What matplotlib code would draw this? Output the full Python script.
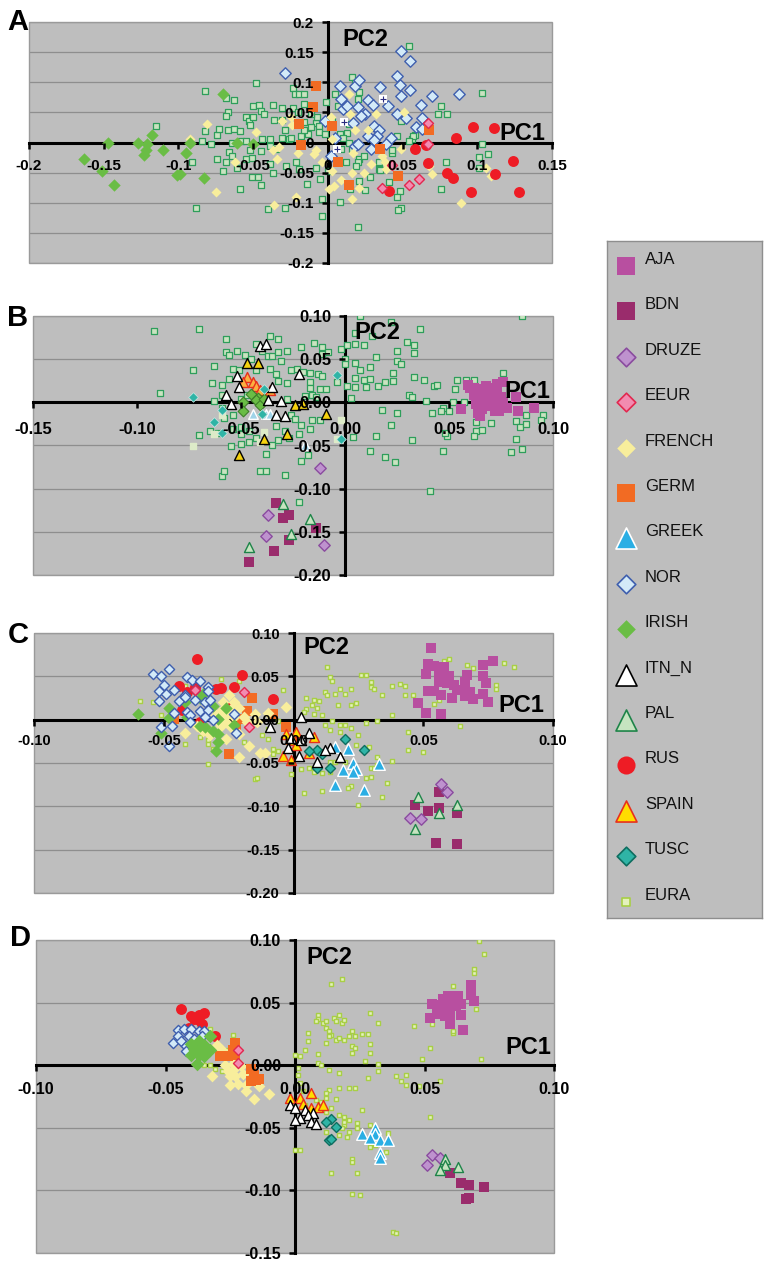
import numpy as np
import matplotlib
matplotlib.use('Agg')
import matplotlib.pyplot as plt
from matplotlib.patches import Rectangle

plt.rcParams['font.family'] = ['Liberation Sans', 'DejaVu Sans']

# Panel A
A_IRISH = [(-.163,-.027),(-.151,-.047),(-.143,-.071),(-.147,0),(-.127,0),(-.121,-.003),(-.122,-.012),(-.123,-.020),(-.118,.012),(-.110,-.013),(-.095,-.017),(-.092,-.001),(-.101,-.054),(-.099,-.053),(-.083,-.059),(-.070,.080),(-.061,0),(-.050,-.002)]
A_GERM = [(-.008,.094),(-.010,.059),(-.019,.030),(.003,.028),(-.018,-.004),(.007,-.033),(.014,-.071),(.035,-.010),(.047,-.056),(.068,.020)]
A_RUS = [(.097,.025),(.111,.024),(.086,.007),(.058,-.011),(.066,-.004),(.067,-.034),(.080,-.050),(.084,-.059),(.041,-.081),(.096,-.082),(.112,-.052),(.124,-.030),(.128,-.082)]
A_EEUR = [(.067,.032),(.067,-.002),(.036,-.076),(.054,-.070),(.061,-.060),(.043,-.037)]
A_NOR = [(-.029,.115),(.049,.152),(.055,.136),(.046,.110),(.048,.096),(.055,.087),(.049,.077),(.070,.077),(.088,.080),(.062,.062),(.008,.094),(.018,.093),(.021,.103),(.035,.092),(.009,.072),(.010,.055),(.013,.061),(.020,.059),(.027,.071),(.030,.062),(.040,.061),(.025,.048),(.022,.044),(-.002,.035),(.046,.047),(.052,.041),(.063,.040),(.059,.025),(.017,.032),(.031,.028),(.034,.021),(.033,.010),(.027,.011),(.042,.008),(.005,.007),(.031,.004),(.018,-.006),(.020,-.002),(.029,-.011),(.039,-.002),(.002,-.022),(.063,.022)]
A_PLUS = [(.037,.072),(.011,.034),(.006,-.011)]
A_FRENCH = [(-.081,.030),(-.092,.006),(-.048,.018),(-.031,.035),(-.025,.043),(-.024,.029),(-.037,-.012),(-.033,-.007),(-.034,-.028),(-.020,-.018),(-.008,-.012),(-.009,-.019),(-.004,-.033),(.002,.043),(.003,.006),(.003,-.047),(.014,.080),(.015,.047),(.018,.020),(.027,.021),(.032,.048),(.051,.050),(.049,-.010),(.036,-.022),(.038,-.033),(.029,-.035),(.024,-.050),(.016,-.051),(.017,-.018),(.009,-.063),(.004,-.072),(.0005,-.077),(.021,-.075),(.016,-.093),(-.021,-.091),(-.036,-.104),(-.075,-.082),(.039,-.044),(.070,-.053),(.089,-.100),(.106,-.042),(.109,-.055),(.068,-.039),(-.062,-.033)]
A_EURA = [(-.082,.085),(-.048,.098),(-.063,.071),(-.068,.074),(-.067,.051),(-.068,.044),(-.115,.027),(-.082,.019),(-.074,.012),(-.073,.022),(-.067,.020),(-.063,.022),(-.059,.019),(-.055,.043),(-.053,.035),(-.052,.029),(-.050,.043),(-.050,.060),(-.046,.062),(-.045,.053),(-.043,.048),(-.037,.062),(-.031,.058),(-.036,.037),(-.031,.037),(-.023,.091),(-.022,.080),(-.019,.080),(-.016,.081),(-.016,.064),(-.023,.058),(-.020,.050),(-.008,.032),(-.006,.028),(-.011,.025),(-.001,.068),(.005,.080),(.016,.108),(.018,.099),(.021,.084),(.007,.061),(.054,.160),(.076,.060),(.074,.047),(.080,.047),(.103,.082),(.049,.036),(.058,.012),(.056,.006),(.103,-.002),(.107,-.019),(.101,-.024),(.101,-.043),(.076,-.077),(.079,-.033),(.048,-.080),(.046,-.091),(.049,-.109),(.047,-.112),(.020,-.141),(-.004,-.122),(-.004,-.094),(.008,-.099),(-.014,-.069),(-.005,-.061),(-.029,-.108),(-.040,-.111),(-.088,-.109),(-.059,-.077),(-.051,-.057),(-.047,-.058),(-.045,-.071),(-.070,-.048),(-.091,-.032),(-.084,.002),(-.078,-.002),(-.068,-.033),(-.066,-.016),(-.064,-.022),(-.074,-.028),(-.061,-.042),(-.055,-.028),(-.051,-.025),(-.045,-.014),(-.052,-.012),(-.058,.003),(-.055,.003),(-.044,.006),(-.039,.006),(-.031,.008),(-.026,.006),(-.018,.010),(-.013,.014),(-.006,.017),(-.002,.014),(.008,.014),(.013,.015),(.010,.008),(.014,0),(.009,-.011),(.016,-.011),(.021,-.028),(.020,-.033),(.012,-.033),(.019,-.039),(.028,-.057),(.025,-.079),(.021,-.064),(.015,-.078),(-.021,-.033),(-.019,-.044),(-.037,-.050),(-.039,-.036),(-.028,-.039),(-.008,-.042),(.034,-.044),(.041,-.065),(.043,-.018),(.043,-.012),(.046,.011),(.057,.011),(.054,.003),(.034,-.033),(.035,-.046),(-.029,.021),(-.025,.007),(-.016,.034),(-.016,.021),(-.007,.042),(-.011,.047),(.003,.036),(-.064,0),(.014,.030),(.020,.072),(.024,-.022),(0,-.047),(-.035,-.011),(-.039,-.006)]

# Panel B
B_AJA = [(.056,-.008),(.059,.020),(.062,.017),(.065,.015),(.067,.014),(.070,.017),(.073,.021),(.076,.024),(.082,.006),(.083,-.010),(.091,-.006),(.063,-.002),(.066,.002),(.068,.008),(.071,.010),(.073,.012),(.075,.006),(.064,-.012),(.066,-.008),(.069,-.004),(.072,-.010),(.074,-.010),(.078,-.006),(.065,-.016),(.062,.008),(.066,.010),(.070,.002),(.073,0),(.076,0),(.060,.017),(.068,.019)]
B_BDN = [(-.033,-.117),(-.030,-.134),(-.027,-.131),(-.014,-.145),(-.027,-.159),(-.034,-.172),(-.046,-.185)]
B_DRUZE = [(-.012,-.076),(-.037,-.130),(-.038,-.155),(-.010,-.165)]
B_PAL = [(-.030,-.118),(-.017,-.135),(-.026,-.152),(-.046,-.168)]
B_ITN_N = [(-.041,.065),(-.038,.067),(-.052,.030),(-.051,.018),(-.022,.033),(-.035,.018),(-.057,.008),(-.055,-.002),(-.037,.003),(-.031,.001),(-.033,-.015),(-.029,-.016)]
B_YELLOW = [(-.051,-.061),(-.039,-.042),(-.028,-.037),(-.024,-.003),(-.020,-.002),(-.009,-.014),(-.047,.046),(-.042,.046)]
B_SPAIN = [(-.047,.029),(-.049,.024),(-.044,.024),(-.043,.019),(-.041,.014),(-.036,.014)]
B_IRISH = [(-.049,0),(-.049,-.010),(-.045,.010),(-.042,.005),(-.043,.003),(-.041,-.003),(-.039,.004)]
B_TUSC = [(-.073,.006),(-.059,-.009),(-.063,-.023),(-.059,-.036),(-.040,-.014),(-.039,.015),(-.004,.032),(-.002,-.043)]
B_GREEK = [(-.044,-.014),(-.038,-.013),(-.036,-.013),(-.019,-.049)]
B_PALE = [(-.073,-.051),(-.063,-.037),(-.059,-.015),(-.041,-.046),(-.039,-.034),(-.004,-.043),(-.002,-.021)]
B_EURA = [(-.092,.083),(-.070,.085),(-.057,.073),(-.089,.011),(-.073,.037),(-.063,.042),(-.064,.022),(-.059,.020),(-.056,.027),(-.054,.039),(-.051,.037),(-.057,.058),(-.056,.055),(-.052,.059),(-.048,.055),(-.045,.050),(-.043,.068),(-.036,.077),(-.032,.073),(-.040,.060),(-.037,.054),(-.035,.054),(-.032,.058),(-.028,.059),(-.031,.048),(-.036,.039),(-.043,.037),(-.033,.033),(-.032,.025),(-.028,.022),(-.026,.038),(-.023,.039),(-.020,.035),(-.017,.034),(-.021,.064),(-.015,.069),(-.011,.064),(-.011,.056),(-.008,.058),(-.013,.033),(-.011,.031),(-.017,.023),(-.017,.017),(-.012,.015),(-.009,.016),(-.016,.008),(-.014,.006),(-.019,.007),(-.004,.023),(-.002,.062),(.001,.066),(0,.050),(0,.044),(.005,.068),(.009,.066),(.007,.0997),(.005,.080),(.013,.077),(.022,.093),(.036,.085),(.030,.070),(.033,.066),(.033,.057),(.025,.060),(.025,.048),(.027,.044),(.015,.053),(.012,.041),(.007,.037),(.005,.046),(.023,.034),(.033,.029),(.038,.026),(.043,.019),(.044,.020),(.005,.028),(.009,.026),(.012,.027),(.023,.025),(.019,.023),(.016,.019),(.005,.018),(.010,.018),(.001,.019),(.003,.005),(.031,.008),(.032,.006),(.039,.001),(.018,-.009),(.025,-.012),(.042,-.012),(.047,-.007),(.046,-.010),(.050,-.010),(.022,-.026),(.015,-.039),(.004,-.040),(.032,-.044),(.012,-.056),(.019,-.063),(.024,-.069),(.047,-.056),(.049,-.039),(.048,-.036),(.041,-.103),(.054,.026),(.058,.026),(.062,.026),(.053,.015),(.057,0),(.052,0),(.063,-.023),(.063,-.033),(.062,-.039),(.066,-.032),(.070,-.024),(.076,.034),(.085,.100),(.082,-.022),(.084,-.029),(.087,-.025),(.087,-.015),(.095,-.015),(.094,-.020),(.082,-.043),(.080,-.057),(.085,-.054),(-.070,-.038),(-.065,-.033),(-.061,-.035),(-.055,-.051),(-.050,-.048),(-.046,-.046),(-.050,-.037),(-.054,-.031),(-.058,-.018),(-.059,-.006),(-.063,.002),(-.059,.008),(-.059,-.085),(-.058,-.079),(-.041,-.080),(-.038,-.080),(-.029,-.084),(-.022,-.116),(-.021,-.068),(-.018,-.061),(-.038,-.060),(-.035,-.050),(-.032,-.044),(-.027,-.041),(-.022,-.037),(-.017,-.031),(-.012,-.020),(-.016,-.021),(-.021,-.026),(-.029,-.033),(-.033,-.027),(-.043,-.041),(-.046,-.033),(-.050,-.029),(-.054,-.015),(-.050,.004),(-.047,.008),(-.028,.004),(-.026,-.015),(-.024,-.019)]

# Panel C
C_AJA = [(.053,.083),(.052,.064),(.054,.062),(.051,.053),(.056,.052),(.058,.061),(.060,.050),(.056,.044),(.059,.042),(.062,.040),(.066,.044),(.067,.052),(.073,.063),(.077,.068),(.073,.050),(.074,.042),(.063,.034),(.066,.034),(.068,.032),(.073,.030),(.052,.033),(.054,.033),(.057,.029),(.061,.025),(.066,.027),(.069,.024),(.075,.020),(.048,.019),(.051,.008),(.057,.007)]
C_BDN = [(.047,-.099),(.052,-.105),(.056,-.102),(.056,-.083),(.063,-.108),(.055,-.142),(.063,-.143)]
C_DRUZE = [(.057,-.074),(.059,-.083),(.045,-.113),(.049,-.115)]
C_EEUR = [(-.019,.032),(-.017,-.009),(-.038,.034)]
C_FRENCH = [(-.025,.028),(-.023,.020),(-.027,.020),(-.024,.012),(-.028,.010),(-.021,.014),(-.030,.005),(-.026,.005),(-.023,.003),(-.019,.003),(-.015,.007),(-.014,-.003),(-.010,.008),(-.035,-.013),(-.037,-.007),(-.042,-.015),(-.032,-.018),(-.026,-.022),(-.024,-.009),(-.028,-.007),(-.029,-.003),(-.021,-.017),(-.017,-.030),(-.013,-.038),(-.011,-.038),(-.021,-.043),(-.018,-.003),(-.023,.008),(-.026,-.003),(-.003,.015)]
C_GERM = [(-.016,.025),(-.018,.010),(-.008,.007),(-.025,-.040),(-.022,-.011),(-.020,.001),(-.046,.001),(-.003,-.009),(-.001,-.024)]
C_GREEK = [(.016,-.032),(.021,-.034),(.023,-.050),(.024,-.057),(.019,-.058),(.023,-.060),(.033,-.051),(.016,-.075),(.027,-.081)]
C_NOR = [(-.048,.058),(-.054,.053),(-.051,.050),(-.050,.040),(-.052,.033),(-.049,.030),(-.052,.021),(-.041,.049),(-.039,.046),(-.036,.045),(-.033,.038),(-.038,.034),(-.042,.028),(-.044,.022),(-.034,.020),(-.038,.023),(-.032,.023),(-.033,.033),(-.046,.008),(-.041,.009),(-.036,.010),(-.033,.011),(-.040,.005),(-.034,.003),(-.031,0),(-.047,-.007),(-.051,-.009),(-.040,-.003),(-.048,-.030),(-.023,.007),(-.022,-.015),(-.046,.034),(-.042,.026)]
C_IRISH = [(-.060,.007),(-.048,.014),(-.035,.030),(-.036,.025),(-.031,.016),(-.026,.014),(-.048,.002),(-.041,.003),(-.051,-.015),(-.034,-.008),(-.031,-.013),(-.029,.001),(-.029,-.016),(-.023,-.006),(-.029,-.026),(-.030,-.036),(-.042,.020),(-.036,-.007)]
C_ITN_N = [(.003,.003),(-.009,-.008),(.006,-.015),(-.001,-.021),(.003,-.024),(-.002,-.033),(.002,-.042),(.009,-.049),(.014,-.033),(.012,-.035),(.018,-.043)]
C_PAL = [(.048,-.089),(.063,-.099),(.056,-.108),(.047,-.126)]
C_RUS = [(-.037,.070),(-.020,.052),(-.044,.039),(-.041,.032),(-.038,.038),(-.030,.035),(-.028,.036),(-.023,.038),(-.008,.024),(-.043,.011),(-.036,-.003),(-.026,.015)]
C_SPAIN = [(-.003,-.017),(.001,-.014),(.008,-.020),(0,-.024),(.001,-.029),(-.004,-.042),(-.001,-.047),(.006,-.039)]
C_TUSC = [(.020,-.022),(.027,-.035),(.009,-.035),(.006,-.036),(.011,-.040),(.009,-.056),(.014,-.056)]
C_EURA = [(-.059,.022),(-.054,.020),(-.051,.005),(-.028,.047),(-.021,.045),(-.042,.039),(-.042,-.028),(-.033,-.024),(-.033,-.028),(-.031,-.034),(-.033,-.051),(-.015,-.068),(-.012,-.018),(-.010,-.022),(-.008,-.034),(-.006,-.036),(-.008,-.040),(-.036,-.020),(-.037,-.009),(-.019,-.026),(-.046,-.003),(-.010,-.011),(.013,.061),(.014,.049),(.015,.045),(.012,.032),(.013,.029),(.016,.030),(.018,.035),(.022,.035),(.020,.030),(.022,.017),(.024,.019),(.017,.017),(.026,.051),(.028,.052),(.030,.044),(.030,.038),(.031,.035),(.034,.029),(.038,.039),(.041,.041),(.043,.039),(.043,.029),(.046,.029),(.038,.005),(.032,-.002),(.028,-.004),(.005,.025),(.008,.023),(.010,.022),(.007,.017),(.005,.012),(.004,.009),(.009,.013),(.008,.007),(.011,.005),(.015,-.002),(.018,-.006),(.022,-.010),(.020,-.006),(.012,-.006),(.014,-.012),(.018,-.014),(.025,-.018),(.024,-.029),(.029,-.031),(.032,-.043),(.038,-.048),(.032,-.052),(.030,-.056),(.031,-.056),(.036,-.073),(.034,-.089),(.025,-.099),(.022,-.076),(.021,-.079),(.028,-.067),(.030,-.066),(.011,-.082),(.004,-.085),(-.014,-.067),(-.001,-.063),(.006,-.056),(.003,-.057),(.008,-.060),(.014,-.060),(.011,-.062),(.016,-.049),(.014,-.049),(.020,-.049),(.024,-.060),(.044,-.014),(.044,-.035),(.050,-.037),(.056,.023),(.054,.018),(.056,.006),(.064,-.007),(.060,.070),(.058,.068),(.067,.063),(.069,.060),(.081,.065),(.085,.061),(.078,.040),(.078,.035),(-.004,.034),(-.006,-.002)]

# Panel D
D_AJA = [(.068,.064),(.068,.056),(.069,.051),(.065,.028),(.060,.033),(.052,.038),(.053,.049),(.057,.053),(.059,.055),(.063,.055),(.064,.049),(.064,.040),(.060,.041),(.057,.047),(.055,.048),(.055,.041),(.058,.039),(.062,.047),(.059,.048)]
D_BDN = [(.060,-.086),(.064,-.094),(.067,-.096),(.073,-.097),(.067,-.106),(.066,-.107)]
D_DRUZE = [(.053,-.072),(.056,-.074),(.051,-.080)]
D_EEUR = [(-.022,.012),(-.022,.002)]
D_FRENCH = [(-.030,.016),(-.028,.012),(-.027,0),(-.024,.001),(-.026,-.005),(-.024,-.004),(-.021,-.001),(-.025,-.009),(-.023,-.009),(-.020,-.007),(-.017,-.012),(-.025,-.016),(-.022,-.015),(-.019,-.021),(-.014,-.017),(-.032,-.009),(-.016,-.027),(-.010,-.023),(-.023,.004),(-.019,-.016)]
D_GERM = [(-.023,.018),(-.024,.012),(-.029,.007),(-.026,.007),(-.023,.009),(-.017,-.003),(-.016,-.008),(-.015,-.012),(-.017,-.013),(-.014,-.011),(-.024,.008)]
D_GREEK = [(.026,-.055),(.031,-.050),(.031,-.055),(.029,-.058),(.033,-.060),(.036,-.060),(.033,-.070),(.033,-.074)]
D_NOR = [(-.045,.028),(-.043,.029),(-.040,.029),(-.037,.027),(-.035,.027),(-.045,.023),(-.041,.023),(-.036,.023),(-.047,.018),(-.044,.019),(-.042,.015),(-.037,.019),(-.039,.021),(-.042,.011)]
D_IRISH = [(-.040,.017),(-.037,.019),(-.035,.016),(-.033,.023),(-.040,.008),(-.038,.001),(-.037,.008),(-.034,.012),(-.035,.007),(-.033,.012),(-.039,.013),(-.037,.013)]
D_ITN_N = [(-.002,-.032),(0,-.034),(.004,-.036),(.007,-.038),(.005,-.040),(.002,-.042),(0,-.044),(.006,-.045),(.008,-.047)]
D_PAL = [(.058,-.075),(.058,-.080),(.056,-.084),(.063,-.081)]
D_RUS = [(-.044,.045),(-.040,.039),(-.037,.040),(-.035,.042),(-.039,.037),(-.037,.036),(-.036,.033),(-.031,.023),(-.041,.030)]
D_SPAIN = [(.006,-.022),(-.002,-.026),(.002,-.026),(.003,-.031),(.006,-.034),(.009,-.033),(.011,-.032)]
D_TUSC = [(.014,-.043),(.012,-.045),(.016,-.049),(.013,-.060),(.014,-.059)]
D_EURA = [(.071,.099),(.073,.089),(.069,.077),(.069,.074),(.061,.063),(.070,.045),(.046,.031),(.052,.014),(.049,.005),(.072,.005),(.061,.026),(.061,.027),(.053,.033),(.056,-.013),(.052,-.041),(.039,-.009),(.041,-.013),(.043,-.008),(.043,-.016),(.048,-.017),(.009,.040),(.009,.037),(.008,.035),(.011,.034),(.012,.035),(.015,.038),(.017,.040),(.016,.035),(.018,.034),(.019,.036),(.012,.030),(.013,.027),(.014,.024),(.016,.020),(.012,.018),(.005,.026),(.005,.019),(.013,.023),(.017,.022),(.019,.020),(.022,.027),(.021,.023),(.023,.023),(.022,.015),(.023,.014),(.022,.010),(.026,.025),(.028,.025),(.029,.042),(.032,.034),(.029,.017),(.029,.010),(.027,.003),(.032,.001),(.032,-.005),(.028,-.010),(.013,-.004),(.017,-.006),(.017,-.018),(.021,-.018),(.023,-.018),(.014,.065),(.018,.069),(.004,.012),(.002,.007),(0,.008),(.009,.009),(.009,.002),(.010,0),(.001,-.002),(.001,-.008),(.002,-.014),(.003,-.021),(.013,-.020),(.012,-.022),(.012,-.026),(.016,-.027),(.010,-.029),(.014,-.034),(.017,-.040),(.019,-.041),(.021,-.044),(.019,-.048),(.018,-.050),(.021,-.053),(.012,-.053),(.017,-.056),(.020,-.057),(.024,-.050),(.026,-.036),(.029,-.048),(.036,-.054),(.029,-.065),(.035,-.069),(.031,-.064),(0,-.068),(.002,-.068),(.022,-.075),(.022,-.077),(.024,-.086),(.014,-.086),(.022,-.103),(.025,-.104),(.038,-.133),(.039,-.134),(.004,-.032),(.008,-.028),(.012,-.037),(.019,-.045),(.024,-.046),(-.024,.024),(-.033,.029),(-.028,-.005),(-.033,0),(-.031,-.003),(-.035,0),(-.026,.012)]

LEGEND_LABELS = ['AJA', 'BDN', 'DRUZE', 'EEUR', 'FRENCH', 'GERM', 'GREEK', 'NOR', 'IRISH', 'ITN_N', 'PAL', 'RUS', 'SPAIN', 'TUSC', 'EURA']

A_XTICKS = [-0.2, -0.15, -0.1, -0.05, 0, 0.05, 0.1, 0.15]
A_XLABELS = ['-0.2', '-0.15', '-0.1', '-0.05', '0', '0.05', '0.1', '0.15']
A_YTICKS = [-0.2, -0.15, -0.1, -0.05, 0, 0.05, 0.1, 0.15, 0.2]
A_YLABELS = ['-0.2', '-0.15', '-0.1', '-0.05', '0', '0.05', '0.1', '0.15', '0.2']
B_XTICKS = [-0.15, -0.10, -0.05, 0, 0.05, 0.10]
B_XLABELS = ['-0.15', '-0.10', '-0.05', '0.00', '0.05', '0.10']
B_YTICKS = [-0.20, -0.15, -0.10, -0.05, 0, 0.05, 0.10]
B_YLABELS = ['-0.20', '-0.15', '-0.10', '-0.05', '0.00', '0.05', '0.10']
C_XTICKS = [-0.10, -0.05, 0, 0.05, 0.10]
C_XLABELS = ['-0.10', '-0.05', '0.00', '0.05', '0.10']
D_YTICKS = [-0.15, -0.10, -0.05, 0, 0.05, 0.10]
D_YLABELS = ['-0.15', '-0.10', '-0.05', '0.00', '0.05', '0.10']

W, H = 773, 1270

# marker, fill, edge, line width, area
STYLE = {
    'AJA': ('s', '#B84FA0', '#B84FA0', 0, 52),
    'BDN': ('s', '#9A2C6C', '#9A2C6C', 0, 52),
    'DRUZE': ('D', '#BE92CE', '#8A4C9F', 1, 34),
    'EEUR': ('D', '#F28BB0', '#E2284F', 1, 26),
    'FRENCH': ('D', '#F8EE9C', '#F8EE9C', 0, 36),
    'GERM': ('s', '#F26B23', '#F26B23', 0, 52),
    'GREEK': ('^', '#2AAEE4', '#FFFFFF', 1, 70),
    'NOR': ('D', '#D3EAF8', '#3F5FAE', 1, 27),
    'IRISH': ('D', '#6ABD45', '#6ABD45', 0, 40),
    'ITN_N': ('^', '#FFFFFF', '#000000', 1, 52),
    'PAL': ('^', '#C6E4C0', '#1E8449', 1, 52),
    'RUS': ('o', '#EE1C25', '#EE1C25', 0, 62),
    'SPAIN': ('^', '#FFDD00', '#E8301C', 1, 52),
    'TUSC': ('D', '#2FB4A6', '#0E6E60', 1, 26),
    'EURA': ('s', '#E4F1BC', '#A8CF45', 1, 6),
}


def add_axes_px(left, right, top, bottom):
    return plt.gcf().add_axes([left / W, 1 - bottom / H, (right - left) / W, (bottom - top) / H])


def draw_points(ax, points, name, **over):
    marker, fill, edge, lw, area = STYLE[name]
    opts = dict(marker=marker, facecolor=fill, edgecolor=edge, linewidth=lw, s=area, zorder=1)
    opts.update(over)
    xy = np.array(points).T
    ax.scatter(xy[0], xy[1], **opts)


def style_panel(ax, xlim, ylim, xticks, xlabels, yticks, ylabels, size, xpad):
    ax.set_xlim(xlim)
    ax.set_ylim(ylim)
    ax.set_facecolor('#BEBEBE')
    for side in ['top', 'right']:
        ax.spines[side].set_visible(False)
    for side in ['left', 'bottom']:
        ax.spines[side].set_position('zero')
        ax.spines[side].set_linewidth(2.2)
        ax.spines[side].set_zorder(0.8)
    ax.set_xticks(xticks)
    ax.set_xticklabels(xlabels, fontsize=size, fontweight='bold')
    ax.set_yticks(yticks)
    ax.set_yticklabels(ylabels, fontsize=size, fontweight='bold')
    ax.tick_params(axis='x', length=4, width=1.8, pad=xpad)
    ax.tick_params(axis='y', length=4, width=1.8, pad=6)
    ax.xaxis.set_zorder(2.5)
    ax.yaxis.set_zorder(2.5)
    for y in yticks:
        if y != 0:
            ax.axhline(y, color='#8E8E8E', lw=0.9, zorder=0.5)
    ax.add_patch(Rectangle((0, 0), 1, 1, transform=ax.transAxes, fill=False, edgecolor='#9A9A9A', lw=1, zorder=0.6, clip_on=False))


def px_text(x, y, s, size):
    plt.gcf().text(x / W, 1 - y / H, s, fontsize=size, fontweight='bold', ha='center', va='center', zorder=10)


fig = plt.figure(figsize=(W / 100, H / 100), dpi=100)

# A
ax = add_axes_px(29, 552, 22, 263)
draw_points(ax, A_EURA, 'EURA', s=16, facecolor='#C9E3C0', edgecolor='#2E9E5B', linewidth=0.9)
draw_points(ax, A_NOR, 'NOR', s=34)
draw_points(ax, A_FRENCH, 'FRENCH', s=26)
draw_points(ax, A_IRISH, 'IRISH')
draw_points(ax, A_GERM, 'GERM')
draw_points(ax, A_RUS, 'RUS')
draw_points(ax, A_EEUR, 'EEUR')
xy = np.array(A_PLUS).T
ax.scatter(xy[0], xy[1], marker='s', s=30, facecolor='white', linewidth=0, zorder=1)
ax.scatter(xy[0], xy[1], marker='+', s=14, color='#2B2B7F', linewidth=0.8, zorder=1)
style_panel(ax, (-0.2, 0.15), (-0.2, 0.2), A_XTICKS, A_XLABELS, A_YTICKS, A_YLABELS, 11, 8)

# B
ax = add_axes_px(33, 553, 316, 575)
draw_points(ax, B_EURA, 'EURA', s=16, facecolor='#C9E3C0', edgecolor='#2E9E5B', linewidth=0.9)
draw_points(ax, B_PALE, 'EURA', s=24, facecolor='#DDEBC8', edgecolor='#DDEBC8')
draw_points(ax, B_GREEK, 'GREEK', s=48, facecolor='#9FD3E8')
draw_points(ax, B_AJA, 'AJA', s=62)
draw_points(ax, B_BDN, 'BDN')
draw_points(ax, B_DRUZE, 'DRUZE')
draw_points(ax, B_PAL, 'PAL')
draw_points(ax, B_SPAIN, 'SPAIN', facecolor='#FBB040')
draw_points(ax, B_IRISH, 'IRISH', edgecolor='#3F7F2A', linewidth=0.8, s=30)
draw_points(ax, B_YELLOW, 'ITN_N', facecolor='#F4D10F')
draw_points(ax, B_ITN_N, 'ITN_N')
draw_points(ax, B_TUSC, 'TUSC', edgecolor='#CDE8E4', linewidth=0.5, s=24)
style_panel(ax, (-0.15, 0.10), (-0.20, 0.10), B_XTICKS, B_XLABELS, B_YTICKS, B_YLABELS, 12, 10)

# C
ax = add_axes_px(34, 553, 633, 893)
draw_points(ax, C_EURA, 'EURA')
draw_points(ax, C_AJA, 'AJA')
draw_points(ax, C_BDN, 'BDN')
draw_points(ax, C_DRUZE, 'DRUZE')
draw_points(ax, C_RUS, 'RUS')
draw_points(ax, C_GERM, 'GERM')
draw_points(ax, C_FRENCH, 'FRENCH')
draw_points(ax, C_IRISH, 'IRISH')
draw_points(ax, C_NOR, 'NOR')
draw_points(ax, C_EEUR, 'EEUR')
draw_points(ax, C_PAL, 'PAL')
draw_points(ax, C_SPAIN, 'SPAIN')
draw_points(ax, C_TUSC, 'TUSC')
draw_points(ax, C_GREEK, 'GREEK')
draw_points(ax, C_ITN_N, 'ITN_N')
style_panel(ax, (-0.10, 0.10), (-0.20, 0.10), C_XTICKS, C_XLABELS, B_YTICKS, B_YLABELS, 10.5, 6)

# D
ax = add_axes_px(36, 554, 940, 1253)
draw_points(ax, D_EURA, 'EURA')
draw_points(ax, D_AJA, 'AJA', s=62)
draw_points(ax, D_BDN, 'BDN')
draw_points(ax, D_DRUZE, 'DRUZE')
draw_points(ax, D_RUS, 'RUS')
draw_points(ax, D_FRENCH, 'FRENCH')
draw_points(ax, D_GERM, 'GERM')
draw_points(ax, D_NOR, 'NOR')
draw_points(ax, D_IRISH, 'IRISH', s=48)
draw_points(ax, D_EEUR, 'EEUR')
draw_points(ax, D_PAL, 'PAL')
draw_points(ax, D_SPAIN, 'SPAIN')
draw_points(ax, D_TUSC, 'TUSC')
draw_points(ax, D_GREEK, 'GREEK')
draw_points(ax, D_ITN_N, 'ITN_N')
style_panel(ax, (-0.10, 0.10), (-0.15, 0.10), C_XTICKS, C_XLABELS, D_YTICKS, D_YLABELS, 11.5, 8)

for x, y, s in [(365, 40, 'PC2'), (522, 133, 'PC1'), (377, 333, 'PC2'), (527, 392, 'PC1'),
                (326, 647, 'PC2'), (521, 705, 'PC1'), (329, 958, 'PC2'), (528, 1048, 'PC1')]:
    px_text(x, y, s, 17)
for x, y, s in [(18, 22, 'A'), (18, 318, 'B'), (18, 635, 'C'), (20, 938, 'D')]:
    px_text(x, y, s, 21)

# legend box
lax = add_axes_px(607, 762, 241, 918)
lax.set_facecolor('#BEBEBE')
lax.set_xlim(607, 762)
lax.set_ylim(918, 241)
lax.set_xticks([])
lax.set_yticks([])
for sp in lax.spines.values():
    sp.set_color('#8E8E8E')
    sp.set_linewidth(1)
for i, name in enumerate(LEGEND_LABELS):
    marker, fill, edge, lw, area = STYLE[name]
    if marker == 's':
        size = 150
    elif marker == 'D':
        size = 90
    elif marker == '^':
        size = 230
    else:
        size = 170
    if name == 'EURA':
        size = 28
    y = 266 + i * 45.4
    lax.scatter([626], [y], marker=marker, s=size, facecolor=fill, edgecolor=edge, linewidth=lw * 1.2)
    lax.text(645, y - 6.5, name, fontsize=12, va='center', ha='left', color='#111111')

fig.savefig('out.png', dpi=100)
